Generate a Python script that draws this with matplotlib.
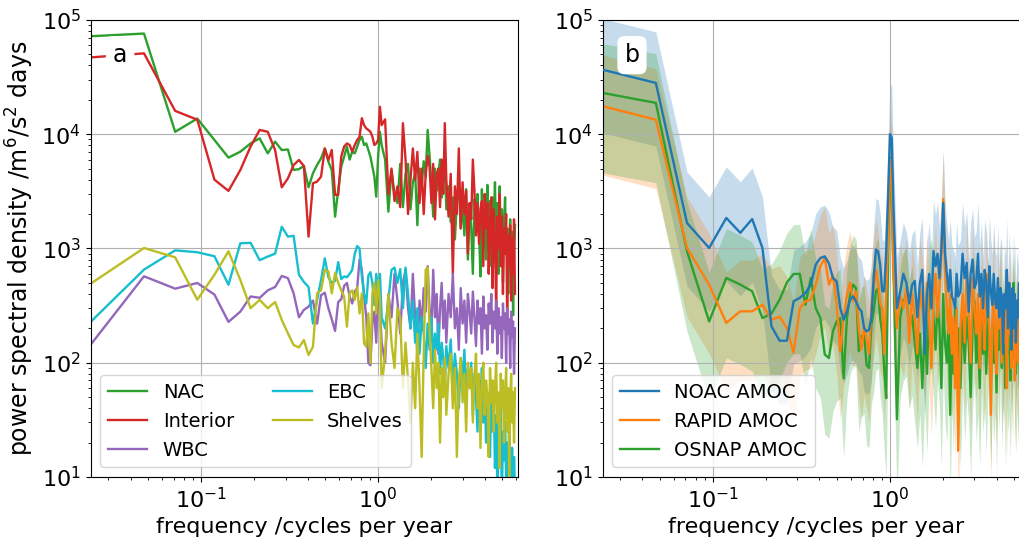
import matplotlib.pyplot as plt
import numpy as np

# Frequency bins of the monthly spectra (42-year record); thinned above 1 cpy
record_years = 42
bins = np.r_[1:45, 46:101:2, 102:250:3]
freq = bins / record_years

# --- Panel a: regional transport spectra [m^6/s^2 days] ---
nac = [72000, 76000, 10500, 13700, 8900, 6240, 7030, 8300, 9200, 6800,
       8600, 7270, 7350, 4860, 4950, 5270, 3430, 4550, 5380, 6150,
       7500, 5750, 4860, 1900, 3250, 5200, 6360, 7800, 6000, 7030,
       6800, 7800, 8900, 9500, 8050, 8300, 7270, 6360, 5200, 4250,
       2840, 6360, 10500, 8000,
       6000, 2100, 4800, 3000, 2500, 5500, 2300, 4500, 5500, 2200,
       3800, 4600, 1600, 5000, 3500, 5800, 4200, 10900, 6500, 3800,
       1900, 5000, 3200, 4500, 6000, 2800, 4000, 6000,
       2200, 3500, 1700, 2800, 1200, 2600, 3800, 1500, 2500, 1300,
       3300, 800, 2400, 1500, 600, 2700, 2000, 3000, 1400, 570,
       3300, 1100, 2000, 800, 3600, 1300, 2600, 700, 2800, 1500,
       3800, 900, 2500, 600, 3500, 1200, 2200, 500, 1700, 2800,
       900, 1500, 400, 1100, 1800, 600, 1400, 260, 900, 1600]

interior = [47000, 51000, 16000, 13400, 4000, 3190, 4860, 7800, 10900, 10500,
            7270, 3430, 4110, 5380, 5950, 5270, 1270, 3720, 3850, 4250,
            7500, 5950, 7270, 2940, 2940, 6360, 7800, 8300, 8050, 7030,
            8050, 8900, 9500, 13800, 12000, 11250, 10900, 10500, 9500, 8050,
            8300, 8900, 17400, 12000,
            13500, 3000, 5000, 2600, 3500, 2300, 12500, 6000, 2000, 4000,
            7500, 4000, 7000, 2500, 5000, 2000, 4500, 6500, 5200, 2500,
            5500, 1800, 4500, 5000, 2300, 6000, 3000, 12500,
            4000, 1900, 4500, 600, 3500, 2000, 7500, 1500, 3800, 2000,
            3200, 900, 2500, 1800, 6000, 3200, 1300, 2500, 1100, 2200,
            2600, 700, 3000, 1500, 2500, 600, 1700, 2800, 450, 2200,
            1200, 300, 1900, 1000, 3000, 700, 1900, 400, 1500, 900,
            2000, 250, 1300, 700, 1600, 350, 1200, 600, 1800, 400]

wbc = [144, 571, 445, 499, 395, 228, 280, 380, 370, 430,
       460, 575, 550, 405, 250, 290, 310, 350, 220, 390,
       410, 300, 240, 190, 340, 360, 470, 500, 380, 330,
       420, 450, 800, 650, 380, 250, 100, 95, 220, 280,
       150, 480, 300, 150,
       100, 400, 250, 600, 350, 180, 500, 650, 300, 200,
       600, 250, 120, 350, 200, 450, 280, 700, 300, 180,
       650, 250, 400, 120, 300, 500, 200, 350,
       150, 400, 250, 600, 200, 300, 130, 450, 220, 350,
       150, 400, 280, 180, 420, 250, 140, 350, 220, 300,
       120, 380, 200, 260, 130, 330, 220, 400, 150, 280,
       200, 350, 120, 300, 180, 250, 110, 330, 200, 270,
       100, 300, 180, 240, 90, 280, 170, 230, 80, 200]

ebc = [228, 653, 963, 927, 855, 482, 1110, 1120, 790, 850,
       900, 1550, 1270, 1290, 590, 510, 460, 220, 355, 530,
       820, 560, 500, 520, 760, 540, 570, 560, 600, 650,
       900, 1050, 1000, 570, 400, 330, 580, 620, 500, 320,
       600, 420, 600, 250,
       200, 350, 650, 680, 500, 660, 300, 680, 400, 200,
       350, 150, 300, 120, 250, 180, 90, 220, 130, 250,
       100, 180, 130, 220, 80, 150, 110, 60,
       140, 90, 160, 60, 120, 80, 40, 110, 70, 130,
       50, 90, 60, 100, 35, 80, 50, 25, 70, 45,
       90, 30, 60, 20, 55, 35, 15, 50, 25, 45,
       12, 35, 8, 30, 18, 40, 6, 25, 14, 30,
       9, 20, 5, 25, 12, 7, 18, 4, 15, 8]

shelves = [492, 1010, 837, 356, 589, 945, 530, 300, 355, 300,
           340, 237, 181, 143, 136, 158, 117, 138, 405, 430,
           650, 630, 405, 610, 500, 430, 380, 207, 405, 430,
           355, 460, 270, 405, 148, 138, 270, 99, 405, 500,
           270, 530, 350, 60,
           120, 400, 150, 90, 300, 250, 60, 150, 70, 30,
           100, 40, 180, 60, 15, 120, 650, 680, 200, 90,
           40, 130, 60, 100, 20, 90, 50, 110,
           35, 80, 120, 40, 90, 15, 70, 110, 45, 80,
           25, 100, 60, 90, 30, 75, 120, 40, 80, 18,
           65, 100, 35, 70, 50, 15, 90, 45, 70, 25,
           60, 100, 30, 55, 12, 80, 40, 70, 20, 50,
           90, 25, 60, 10, 45, 80, 30, 55, 20, 60]

# --- Panel b: AMOC spectra ---
noac = [36700, 28100, 1670, 1010, 1850, 1370, 1810, 1010, 208, 156,
        156, 345, 370, 408, 483, 722, 826, 853, 740, 552,
        515, 301, 238, 282, 356, 381, 345, 301, 282, 201,
        188, 195, 246, 552, 980, 945, 722, 422, 422, 945,
        2960, 10000, 9300, 2200,
        300, 420, 600, 500, 330, 480, 520, 250, 500, 650,
        120, 400, 600, 300, 950, 700, 900, 550, 1000, 2500,
        900, 600, 420, 650, 380, 350, 300, 600,
        380, 420, 900, 550, 750, 280, 600, 800, 450, 500,
        900, 380, 600, 300, 650, 500, 250, 700, 420, 320,
        600, 350, 300, 550, 250, 450, 380, 120, 400, 300,
        650, 200, 500, 300, 130, 450, 200, 400, 150, 350,
        250, 500, 200, 300, 150, 400, 250, 350, 200, 300]

rapid = [17600, 13400, 1010, 483, 223, 282, 282, 322, 238, 253,
         201, 122, 300, 345, 356, 483, 700, 826, 483, 580,
         322, 126, 246, 394, 505, 345, 420, 200, 130, 210,
         160, 120, 300, 450, 650, 500, 330, 300, 120, 400,
         1200, 6000, 4000, 600,
         200, 380, 300, 450, 150, 400, 250, 120, 450, 300,
         180, 500, 220, 90, 350, 600, 250, 450, 900, 2700,
         700, 300, 180, 400, 120, 250, 60, 300,
         17, 200, 400, 150, 650, 250, 100, 550, 300, 180,
         400, 90, 450, 250, 130, 600, 300, 200, 35, 250,
         500, 150, 80, 350, 200, 450, 100, 280, 150, 380,
         60, 250, 180, 400, 90, 220, 300, 70, 180, 250,
         100, 300, 150, 40, 200, 120, 250, 80, 180, 120]

osnap = [23000, 18800, 945, 230, 552, 483, 422, 246, 270, 356,
         505, 598, 600, 322, 552, 301, 246, 118, 110, 188,
         230, 246, 73, 246, 394, 483, 450, 126, 168, 180,
         95, 90, 215, 282, 422, 450, 246, 180, 86, 49,
         945, 6200, 2500, 700,
         32, 250, 350, 380, 200, 260, 150, 90, 180, 60,
         220, 80, 380, 450, 250, 130, 350, 200, 60, 400,
         150, 100, 250, 35, 200, 80, 300, 120,
         200, 60, 300, 100, 250, 150, 50, 200, 350, 100,
         180, 60, 280, 120, 200, 80, 300, 150, 60, 220,
         100, 180, 55, 250, 130, 400, 90, 200, 150, 60,
         250, 120, 180, 70, 300, 110, 500, 150, 80, 200,
         100, 160, 60, 180, 90, 140, 70, 120, 50, 100]

# confidence band as multiplicative factors (lower, upper) on each spectrum
ci_factors = {"NOAC AMOC": (0.28, 2.8), "RAPID AMOC": (0.25, 2.8), "OSNAP AMOC": (0.2, 2.7)}

regions = [("NAC", nac, "tab:green"), ("Interior", interior, "tab:red"),
           ("WBC", wbc, "tab:purple"), ("EBC", ebc, "tab:cyan"),
           ("Shelves", shelves, "tab:olive")]
amoc = [("NOAC AMOC", noac, "tab:blue", 2.6), ("RAPID AMOC", rapid, "tab:orange", 2.4),
        ("OSNAP AMOC", osnap, "tab:green", 2.2)]

fig = plt.figure(figsize=(10.19, 5.39), dpi=100)
ax_a = fig.add_axes([0.089, 0.115, 0.419, 0.848])
ax_b = fig.add_axes([0.5913, 0.115, 0.419, 0.848])

for name, vals, col in regions:
    ax_a.loglog(freq, vals, color=col, lw=1.7, label=name)

for name, vals, col, z in amoc:
    lo, hi = ci_factors[name]
    v = np.array(vals, dtype=float)
    ax_b.fill_between(freq, v * lo, v * hi, color=col, alpha=0.25, lw=0)
# NOAC sits on top of the other two lines
for name, vals, col, z in amoc:
    ax_b.loglog(freq, vals, color=col, lw=1.7, label=name, zorder=z)

for ax, tag in [(ax_a, "a"), (ax_b, "b")]:
    ax.set_xscale("log")
    ax.set_yscale("log")
    ax.set_xlim(freq[0], 6.14)
    ax.set_ylim(10, 1e5)
    ax.grid(True, which="major", color="#b0b0b0", lw=0.8)
    ax.tick_params(labelsize=16)
    ax.set_xlabel("frequency /cycles per year", fontsize=16)
    ax.text(0.069, 0.923, tag, transform=ax.transAxes, fontsize=17,
            ha="center", va="center", zorder=5,
            bbox=dict(boxstyle="round,pad=0.3", fc="white", ec="none"))
    ax.legend(loc="lower left", fontsize=14, ncol=2 if ax is ax_a else 1)

ax_a.set_ylabel("power spectral density /m$^6$/s$^2$ days", fontsize=17)

fig.savefig("out.png", dpi=100)
